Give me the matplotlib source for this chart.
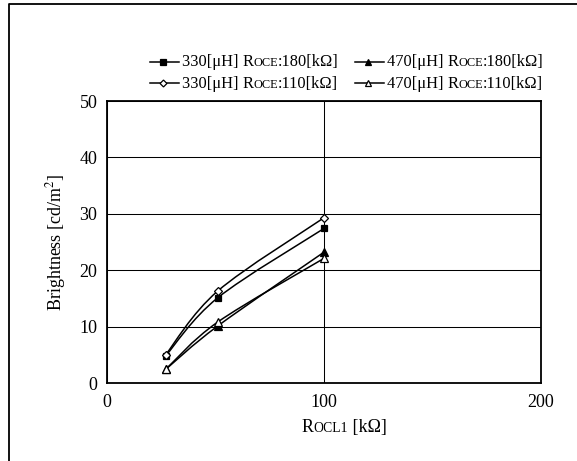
import numpy as np
import matplotlib
matplotlib.use('Agg')
import matplotlib.pyplot as plt
from matplotlib.path import Path
from matplotlib.patches import PathPatch
from matplotlib.lines import Line2D
from matplotlib.offsetbox import TextArea, HPacker, DrawingArea, AnchoredOffsetbox

plt.rcParams['font.family'] = 'Liberation Serif'
plt.rcParams['mathtext.fontset'] = 'stix'

# data
r_ocl1 = [27, 51, 100]
b_330_180 = [4.8, 15.1, 27.4]
b_470_180 = [2.4, 10.1, 23.2]
b_330_110 = [5.0, 16.3, 29.3]
b_470_110 = [2.4, 10.8, 22.1]

series = [
    (b_330_180, 's', 'black', ('330[μH] ', 'R', 'OCE', ':180[kΩ]')),
    (b_470_180, '^', 'black', ('470[μH] ', 'R', 'OCE', ':180[kΩ]')),
    (b_330_110, 'D', 'white', ('330[μH] ', 'R', 'OCE', ':110[kΩ]')),
    (b_470_110, '^', 'white', ('470[μH] ', 'R', 'OCE', ':110[kΩ]')),
]
msize = {'s': 5, '^': 6, 'D': 4.5}

W, H = 577, 461
fig = plt.figure(figsize=(W / 100, H / 100), dpi=100)
ax = fig.add_axes([107 / W, 1 - 383 / H, 434 / W, 282 / H])


def smooth_path(xs, ys):
    # excel-like smoothed line: catmull-rom bezier segments through the points
    p = np.column_stack([xs, ys]).astype(float)
    n = len(p)
    verts = [p[0]]
    codes = [Path.MOVETO]
    for i in range(n - 1):
        p0 = p[i - 1] if i > 0 else p[i]
        p3 = p[i + 2] if i + 2 < n else p[i + 1]
        c1 = p[i] + (p[i + 1] - p0) / 6
        c2 = p[i + 1] - (p3 - p[i]) / 6
        verts += [c1, c2, p[i + 1]]
        codes += [Path.CURVE4] * 3
    return Path(verts, codes)


for ys, m, fc, _ in series:
    ax.add_patch(PathPatch(smooth_path(r_ocl1, ys), fill=False, ec='black', lw=1.1, zorder=3))
for ys, m, fc, _ in series:
    ax.plot(r_ocl1, ys, ls='none', marker=m, ms=msize[m], mfc=fc, mec='black', mew=0.9, zorder=4)

ax.set_xlim(0, 200)
ax.set_ylim(0, 50)
ax.set_xticks([0, 100, 200])
ax.set_yticks(range(0, 51, 10))
ax.grid(True, color='black', lw=0.75)
ax.set_axisbelow(True)
ax.tick_params(length=0, labelsize=13)
ax.tick_params(axis='y', pad=7)
ax.tick_params(axis='x', pad=8)
for s in ax.spines.values():
    s.set_linewidth(1.3)

ax.set_ylabel('Brightness [cd/m$^{2}$]', fontsize=13, labelpad=8)


def sc_box(parts, size):
    # fake small caps: the letters after the leading R are drawn smaller
    kids = []
    for j, t in enumerate(parts):
        fs = size * 0.76 if j == 2 else size
        kids.append(TextArea(t, textprops=dict(fontsize=fs, family='Liberation Serif')))
    return HPacker(children=kids, align='baseline', pad=0, sep=0)


# x label with small caps
xl = sc_box(('', 'R', 'OCL1', ' [kΩ]'), 13)
fig.add_artist(AnchoredOffsetbox(loc='center', child=xl, pad=0, borderpad=0, frameon=False,
                                 bbox_to_anchor=(344 / W, 1 - 427 / H),
                                 bbox_transform=fig.transFigure))

# legend, two rows by two columns
lmsize = {'s': 4.5, '^': 5, 'D': 3.5}
pos = [(150, 62.5), (355, 62.5), (150, 83.5), (355, 83.5)]
for (ys, m, fc, parts), (px, py) in zip(series, pos):
    da = DrawingArea(21, 8, 0, 0)
    da.add_artist(Line2D([0, 21], [4, 4], color='black', lw=1.1))
    da.add_artist(Line2D([9.5], [4], marker=m, ms=lmsize[m], mfc=fc, mec='black', mew=0.9))
    box = HPacker(children=[da, sc_box(parts, 11.8)], align='center', pad=0, sep=2)
    fig.add_artist(AnchoredOffsetbox(loc='center left', child=box, pad=0, borderpad=0,
                                     frameon=False,
                                     bbox_to_anchor=(px / W, 1 - py / H),
                                     bbox_transform=fig.transFigure))

# outer frame, only top and left edges fall inside the picture
fig.add_artist(Line2D([9 / W, 9 / W, 1], [0, 1 - 4 / H, 1 - 4 / H], color='black', lw=1.3,
                      transform=fig.transFigure))

fig.savefig('out.png', dpi=100)
